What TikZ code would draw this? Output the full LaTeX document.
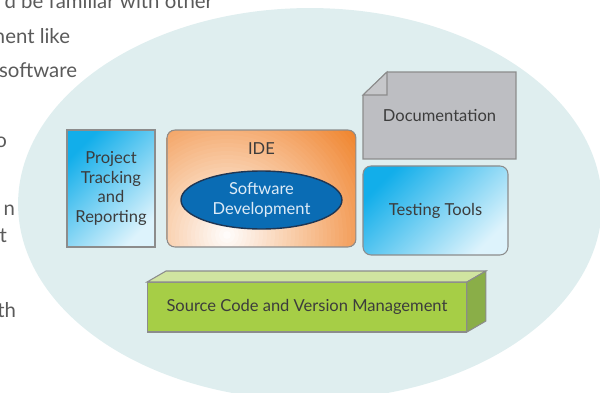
\documentclass[tikz,border=0pt]{standalone}
\usepackage{fontspec}
\setmainfont{Lato}
\usetikzlibrary{positioning,shapes.geometric}

\definecolor{slidetext}{HTML}{5A5A5A}
\definecolor{boxtext}{HTML}{3C3C3C}
\definecolor{backdrop}{HTML}{DFEEEF}
\definecolor{frame}{HTML}{8C8C8C}
\definecolor{skydark}{HTML}{12AEEA}
\definecolor{skylight}{HTML}{DDF3FC}
\definecolor{ideorange}{HTML}{F0852F}
\definecolor{devblue}{HTML}{0A6CB4}
\definecolor{devedge}{HTML}{1E3654}
\definecolor{devtext}{HTML}{DDEBF7}
\definecolor{docgray}{HTML}{BDBEC2}
\definecolor{docfold}{HTML}{C6C7CA}
\definecolor{vcsfront}{HTML}{A6CE46}
\definecolor{vcstop}{HTML}{D0E4A0}
\definecolor{vcsside}{HTML}{8AAE48}

\begin{document}
\begin{tikzpicture}[x=0.02cm,y=-0.02cm,
    every node/.style={font=\fontsize{9.4}{11.3}\selectfont,text=boxtext,inner sep=0pt,outer sep=0pt},
    slideline/.style={anchor=base east,font=\fontsize{11.6}{14}\selectfont,text=slidetext},
    toolframe/.style={draw=frame,line width=0.6pt},
    skyshade/.style={top color=skydark,bottom color=skylight,shading angle=45},
    warmshade/.style={path picture={
        \coordinate (idespot) at ([shift={(-0.69cm,-0.93cm)}]path picture bounding box.center);
        \foreach \r in {180,176,...,0} {
            \pgfmathsetmacro\warm{min(100,\r/1.65)}
            \fill[ideorange!\warm!white] (idespot) circle[radius=\r*0.02cm];
        }}}]
    \useasboundingbox (0,0) rectangle (600,393);
    \clip (0,0) rectangle (600,393);

    \node[slideline] (line1) at (213,8)   {d be familiar with other};
    \node[slideline] (line2) at (70,43)   {ment like};
    \node[slideline] (line3) at (77,77)   {software};
    \node[slideline] (line4) at (7,147)   {o};
    \node[slideline] (line5) at (15,215)  {n};
    \node[slideline] (line6) at (7,242)   {t};
    \node[slideline] (line7) at (16,317)  {th};

    \node[ellipse,fill=backdrop,minimum width=11.68cm,minimum height=7.84cm] (tools) at (310,204) {};

    \node[toolframe,skyshade,minimum width=1.76cm,minimum height=2.34cm,align=center] (track) at (111,188.5) {Project\\Tracking\\and\\Reporting};
    \node[toolframe,rounded corners=0.16cm,warmshade,minimum width=3.78cm,minimum height=2.34cm] (ide) [right=0.24cm of track] {};
    \node (idelabel) at ([yshift=-0.38cm]ide.north) {IDE};
    \node[ellipse,draw=devedge,line width=0.8pt,fill=devblue,text=devtext,align=center,minimum width=3.22cm,minimum height=1.16cm] (dev) at ([yshift=-0.23cm]ide.center) {Software\\Development};

    \node[minimum width=3.06cm,minimum height=1.74cm] (doc) at (439.5,115.5) {};
    \filldraw[toolframe,fill=docgray] ([yshift=-0.46cm]doc.north west) -- ([xshift=0.48cm]doc.north west) -- (doc.north east) -- (doc.south east) -- (doc.south west) -- cycle;
    \filldraw[toolframe,fill=docfold] ([xshift=0.48cm]doc.north west) -- ([xshift=0.48cm,yshift=-0.46cm]doc.north west) -- ([yshift=-0.46cm]doc.north west) -- cycle;
    \node (doclabel) at (doc) {Documentation};

    \node[toolframe,skyshade,rounded corners=0.16cm,minimum width=2.9cm,minimum height=1.78cm] (test) [below=0.14cm of doc.south west,anchor=north west] {Testing Tools};

    \node[toolframe,fill=vcsfront,minimum width=6.4cm,minimum height=1cm] (vcs) at (307,307) {Source Code and Version Management};
    \filldraw[toolframe,fill=vcstop] (vcs.north west) -- ++(0.38cm,0.22cm) -- ([shift={(0.38cm,0.22cm)}]vcs.north east) -- (vcs.north east) -- cycle;
    \filldraw[toolframe,fill=vcsside] (vcs.north east) -- ++(0.38cm,0.22cm) -- ([shift={(0.38cm,0.22cm)}]vcs.south east) -- (vcs.south east) -- cycle;
\end{tikzpicture}
\end{document}
